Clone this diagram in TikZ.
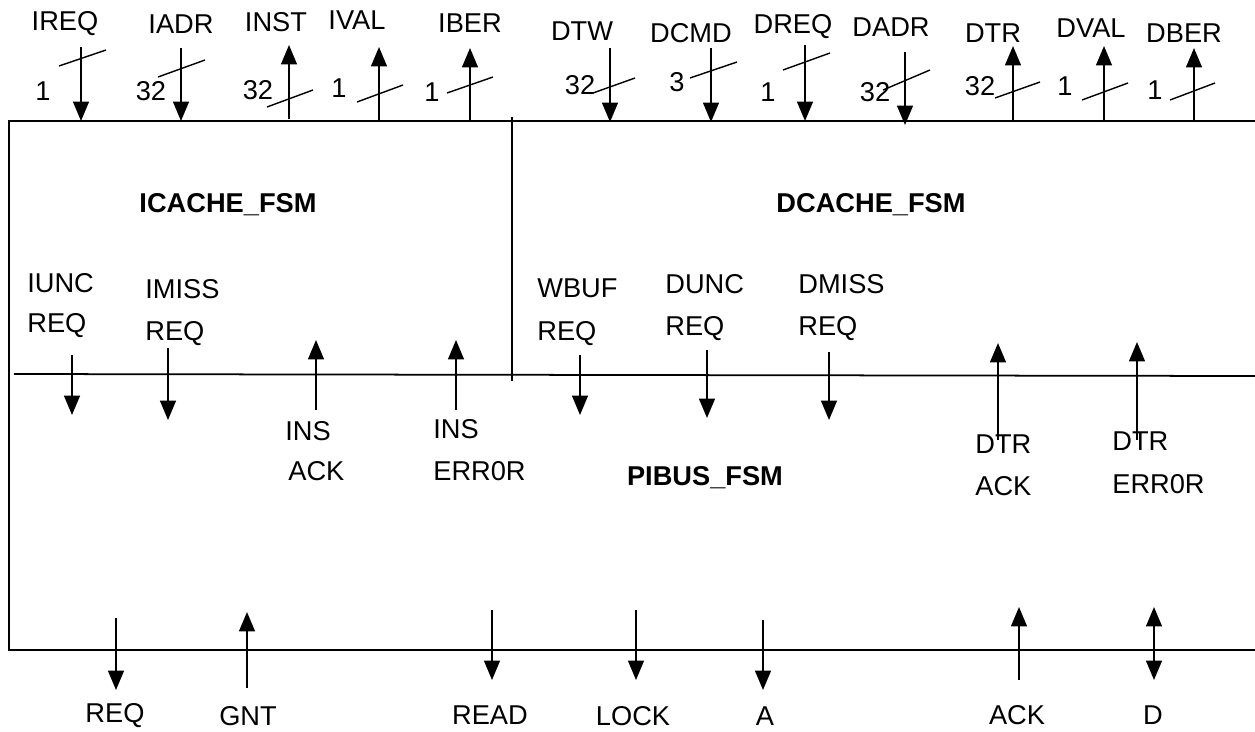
\documentclass[tikz,border=0pt]{standalone}
\usepackage{fontspec}
\setmainfont{Liberation Sans}
\usetikzlibrary{arrows.meta}

\begin{document}
\begin{tikzpicture}[x=0.02cm, y=-0.02cm,
	every node/.style={font=\fontsize{15.5}{18}\selectfont, inner sep=0pt},
	sig/.style={line width=1pt, -{Triangle[length=11pt, width=9pt]}},
	bisig/.style={line width=1pt, {Triangle[length=11pt, width=9pt]}-{Triangle[length=11pt, width=9pt]}},
	bus/.style={line width=0.8pt},
	pin/.style={anchor=base west},
	fsm/.style={font=\fontsize{15.5}{18}\selectfont\bfseries}]
	\useasboundingbox (0,0) rectangle (1255,731);
	% frame
	\draw[line width=1.2pt] (1255,121) -- (9,121) -- (9,650) -- (1255,650);
	\draw[line width=1pt] (512,117) -- (512,381);
	\draw[line width=1pt] (14,374) -- (1255,376);
	\node[fsm] (icache) at (228,205) {ICACHE\_FSM};
	\node[fsm] (dcache) at (871,205) {DCACHE\_FSM};
	\node[fsm] (pibus) at (705,478) {PIBUS\_FSM};
	% icache ports
	\node (ireq) at (65,24) {IREQ};
	\node (iadr) at (181,24) {IADR};
	\node (inst) at (276,22) {INST};
	\node (ival) at (357,20) {IVAL};
	\node (iber) at (470,23) {IBER};
	\draw[sig] (81,47) -- (81,121);
	\draw[sig] (181,48) -- (181,121);
	\draw[sig] (289,119) -- (289,45);
	\draw[sig] (379,121) -- (379,47);
	\draw[sig] (470,121) -- (470,48);
	\draw[bus] (59,66) -- (106,50);
	\draw[bus] (158,77) -- (205,60);
	\draw[bus] (267,107) -- (313,90);
	\draw[bus] (357,102) -- (403,85);
	\draw[bus] (447,93) -- (493,77);
	\node (w1) at (43,91) {1};
	\node (w2) at (151,91) {32};
	\node (w3) at (258,90) {32};
	\node (w4) at (339,88) {1};
	\node (w5) at (432,92) {1};
	% dcache ports
	\node (dtw) at (582,31) {DTW};
	\node (dcmd) at (691,33) {DCMD};
	\node (dreq) at (793,27) {DREQ};
	\node (dadr) at (891,27) {DADR};
	\node (dtr) at (993,33) {DTR};
	\node (dval) at (1091,28) {DVAL};
	\node (dber) at (1184,33) {DBER};
	\draw[sig] (610,48) -- (610,122);
	\draw[sig] (711,48) -- (711,122);
	\draw[sig] (805,45) -- (805,121);
	\draw[sig] (905,52) -- (905,125);
	\draw[sig] (1013,122) -- (1013,46);
	\draw[sig] (1104,122) -- (1104,46);
	\draw[sig] (1194,122) -- (1194,48);
	\draw[bus] (593,93) -- (635,78);
	\draw[bus] (690,78) -- (737,62);
	\draw[bus] (783,70) -- (830,53);
	\draw[bus] (883,90) -- (930,70);
	\draw[bus] (995,98) -- (1040,82);
	\draw[bus] (1082,100) -- (1128,83);
	\draw[bus] (1170,100) -- (1215,83);
	\node (w6) at (580,85) {32};
	\node (w7) at (677,82) {3};
	\node (w8) at (768,92) {1};
	\node (w9) at (875,92) {32};
	\node (w10) at (980,86) {32};
	\node (w11) at (1065,86) {1};
	\node (w12) at (1155,90) {1};
	% requests and answers
	\node[pin] (iunc) at (27,292) {IUNC};
	\node[pin] (iuncreq) at (27,332) {REQ};
	\node[pin] (imiss) at (145,298) {IMISS};
	\node[pin] (imissreq) at (145,340) {REQ};
	\node[pin] (insack) at (285,440) {INS};
	\node[pin] (insack2) at (288,480) {ACK};
	\node[pin] (inserr) at (433,438) {INS};
	\node[pin] (inserr2) at (433,480) {ERR0R};
	\node[pin] (wbuf) at (537,297) {WBUF};
	\node[pin] (wbufreq) at (537,340) {REQ};
	\node[pin] (dunc) at (665,293) {DUNC};
	\node[pin] (duncreq) at (665,335) {REQ};
	\node[pin] (dmiss) at (798,293) {DMISS};
	\node[pin] (dmissreq) at (798,335) {REQ};
	\node[pin] (dtrack) at (975,453) {DTR};
	\node[pin] (dtrack2) at (975,495) {ACK};
	\node[pin] (dtrerr) at (1112,450) {DTR};
	\node[pin] (dtrerr2) at (1112,493) {ERR0R};
	\draw[sig] (72,355) -- (72,415);
	\draw[sig] (168,348) -- (168,420);
	\draw[sig] (316,410) -- (316,340);
	\draw[sig] (456,410) -- (456,340);
	\draw[sig] (580,355) -- (580,415);
	\draw[sig] (707,350) -- (707,418);
	\draw[sig] (829,352) -- (829,420);
	\draw[sig] (998,440) -- (998,343);
	\draw[sig] (1137,440) -- (1137,342);
	% pibus
	\node (req) at (115,716) {REQ};
	\node (gnt) at (248,716) {GNT};
	\node (read) at (490,715) {READ};
	\node (lock) at (633,716) {LOCK};
	\node (adr) at (765,716) {A};
	\node (ack) at (1017,715) {ACK};
	\node (dat) at (1153,715) {D};
	\draw[sig] (116,618) -- (116,690);
	\draw[sig] (247,688) -- (247,612);
	\draw[sig] (492,610) -- (492,680);
	\draw[sig] (636,610) -- (636,680);
	\draw[sig] (763,620) -- (763,690);
	\draw[sig] (1019,680) -- (1019,607);
	\draw[bisig] (1154,607) -- (1154,680);
\end{tikzpicture}
\end{document}
